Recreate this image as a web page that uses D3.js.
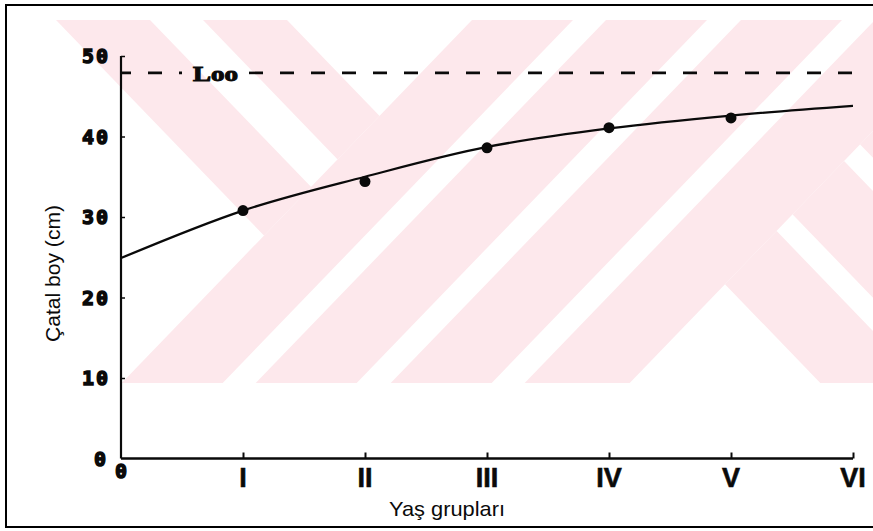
<!DOCTYPE html>
<html>
<head>
<meta charset="utf-8">
<script src="https://cdn.jsdelivr.net/npm/d3@7"></script>
<style>
  html, body { margin: 0; padding: 0; background: #ffffff; }
  svg { display: block; }
</style>
</head>
<body>
<svg id="chart" width="873" height="531"></svg>
<script>
// Age groups on the x axis and fork length (cm) values
const ageLabels = ["I", "II", "III", "IV", "V", "VI"];
const ageValues = [1, 2, 3, 4, 5, 6];
const curveAges = [0, 1, 2, 3, 4, 5, 6];
const curveLength = [24.9, 30.8, 35.0, 38.7, 41.0, 42.6, 43.8];
const observedAges = [1, 2, 3, 4, 5];
const observedLength = [30.8, 34.4, 38.6, 41.1, 42.3];
const lInfinity = 47.9;
const yTickValues = [10, 20, 30, 40, 50];

const svg = d3.select("#chart");
const W = 873, H = 531;

// ---- background emblem: diagonal pale pink bands ----
const PINK = "#fde8ec";
const TOP = 20, BOT = 383;
const RUN = 0.965 * (BOT - TOP);   // horizontal run of one band edge
const defs = svg.append("defs");
defs.append("clipPath").attr("id", "clipArea")
  .append("rect").attr("x", 0).attr("y", TOP).attr("width", W).attr("height", BOT - TOP);
defs.append("clipPath").attr("id", "clipLeft")
  .append("path").attr("d", `M-600,${TOP}L472,${TOP}L${472 - RUN},${BOT}L-600,${BOT}Z`);
defs.append("clipPath").attr("id", "clipRight")
  .append("path").attr("d", `M980,${TOP}L1800,${TOP}L1800,${BOT}L${980 - RUN},${BOT}Z`);

function band(x0, x1, dir) {
  const d = dir * RUN;
  return `M${x0},${TOP}L${x1},${TOP}L${x1 + d},${BOT}L${x0 + d},${BOT}Z`;
}
const emblem = svg.append("g").attr("clip-path", "url(#clipArea)");
const gl = emblem.append("g").attr("clip-path", "url(#clipLeft)");
[[56, 150], [203, 287]].forEach(b => gl.append("path").attr("d", band(b[0], b[1], 1)).attr("fill", PINK));
[[472, 573], [606, 707], [741, 842], [875, 980]].forEach(b =>
  emblem.append("path").attr("d", band(b[0], b[1], -1)).attr("fill", PINK));
const gr = emblem.append("g").attr("clip-path", "url(#clipRight)");
[[470, 573], [605, 708], [740, 843]].forEach(b => gr.append("path").attr("d", band(b[0], b[1], 1)).attr("fill", PINK));

// ---- outer frame ----
svg.append("rect").attr("x", 6).attr("y", 5).attr("width", 900).attr("height", 522)
  .attr("fill", "none").attr("stroke", "#000").attr("stroke-width", 2);

// ---- scales ----
const x = d3.scaleLinear().domain([0, 6]).range([121, 853]);
const y = d3.scaleLinear().domain([0, 50]).range([458.5, 56]);

const INK = "#0a0a0a";
const DIGIT_FONT = "'DejaVu Sans Mono', 'Liberation Mono', monospace";

// ---- axes ----
const xAxis = d3.axisBottom(x).tickValues(ageValues).tickSize(-6).tickFormat("");
const gx = svg.append("g").attr("transform", `translate(0,${y(0)})`).call(xAxis);
gx.select(".domain").attr("d", `M${x(0)},0H${x(6)}`).attr("stroke", INK).attr("stroke-width", 2.4);
gx.selectAll(".tick line").attr("stroke", INK).attr("stroke-width", 2);

const yAxis = d3.axisLeft(y).tickValues(yTickValues).tickSize(-4).tickFormat("");
const gy = svg.append("g").attr("transform", `translate(${x(0)},0)`).call(yAxis);
gy.select(".domain").attr("d", `M0,${y(50)}V${y(0)}`).attr("stroke", INK).attr("stroke-width", 2.2);
gy.selectAll(".tick line").attr("stroke", INK).attr("stroke-width", 1.5);

// y tick labels (heavy mono digits)
svg.append("g").selectAll("text").data([0].concat(yTickValues)).join("text")
  .attr("x", d => d === 0 ? 108 : 110)
  .attr("y", d => y(d) + 7)
  .attr("text-anchor", "end")
  .attr("font-family", DIGIT_FONT)
  .attr("font-weight", "bold")
  .attr("font-size", 20)
  .attr("letter-spacing", 2)
  .attr("fill", INK).attr("stroke", INK).attr("stroke-width", 1.4)
  .text(d => d);

// origin label under the x axis
svg.append("text").attr("x", x(0)).attr("y", 478).attr("text-anchor", "middle")
  .attr("font-family", DIGIT_FONT)
  .attr("font-weight", "bold").attr("font-size", 20)
  .attr("fill", INK).attr("stroke", INK).attr("stroke-width", 1.4)
  .text("0");

// x tick labels (Roman numerals)
svg.append("g").selectAll("text").data(ageValues).join("text")
  .attr("x", d => x(d))
  .attr("y", 487)
  .attr("text-anchor", "middle")
  .attr("font-family", "'Liberation Sans', Arial, sans-serif")
  .attr("font-weight", "bold")
  .attr("font-size", 27)
  .attr("fill", INK).attr("stroke", INK).attr("stroke-width", 0.6)
  .text((d, i) => ageLabels[i]);

// axis titles
svg.append("text").attr("x", 447).attr("y", 516).attr("text-anchor", "middle")
  .attr("font-family", "'Liberation Sans', Arial, sans-serif").attr("font-size", 21)
  .attr("textLength", 116).attr("lengthAdjust", "spacingAndGlyphs")
  .attr("fill", INK).text("Yaş grupları");

svg.append("text").attr("transform", "translate(60,273.5) rotate(-90)").attr("text-anchor", "middle")
  .attr("font-family", "'Liberation Sans', Arial, sans-serif").attr("font-size", 20)
  .attr("textLength", 137).attr("lengthAdjust", "spacingAndGlyphs")
  .attr("fill", INK).text("Çatal boy (cm)");

// ---- asymptotic length (dashed) ----
const yL = y(lInfinity);
const dashed = svg.append("g").attr("stroke", INK).attr("stroke-width", 2.6)
  .attr("stroke-dasharray", "14,17").attr("fill", "none");
dashed.append("line").attr("x1", x(0)).attr("x2", 182).attr("y1", yL).attr("y2", yL)
  .attr("stroke-dashoffset", 4);
dashed.append("line").attr("x1", 249).attr("x2", x(6)).attr("y1", yL).attr("y2", yL);
svg.append("text").attr("x", 193).attr("y", yL + 8)
  .attr("font-family", "'Liberation Serif', 'DejaVu Serif', serif")
  .attr("font-weight", "bold").attr("font-size", 20)
  .attr("textLength", 45).attr("lengthAdjust", "spacingAndGlyphs")
  .attr("fill", INK).attr("stroke", INK).attr("stroke-width", 1)
  .text("Loo");

// ---- growth curve ----
const line = d3.line().x(d => x(d[0])).y(d => y(d[1])).curve(d3.curveMonotoneX);
svg.append("path")
  .datum(curveAges.map((a, i) => [a, curveLength[i]]))
  .attr("d", line)
  .attr("fill", "none").attr("stroke", INK).attr("stroke-width", 2.3);

// ---- observed mean lengths ----
svg.append("g").selectAll("circle")
  .data(observedAges.map((a, i) => [a, observedLength[i]]))
  .join("circle")
  .attr("cx", d => x(d[0])).attr("cy", d => y(d[1])).attr("r", 5.5)
  .attr("fill", INK);
</script>
</body>
</html>
